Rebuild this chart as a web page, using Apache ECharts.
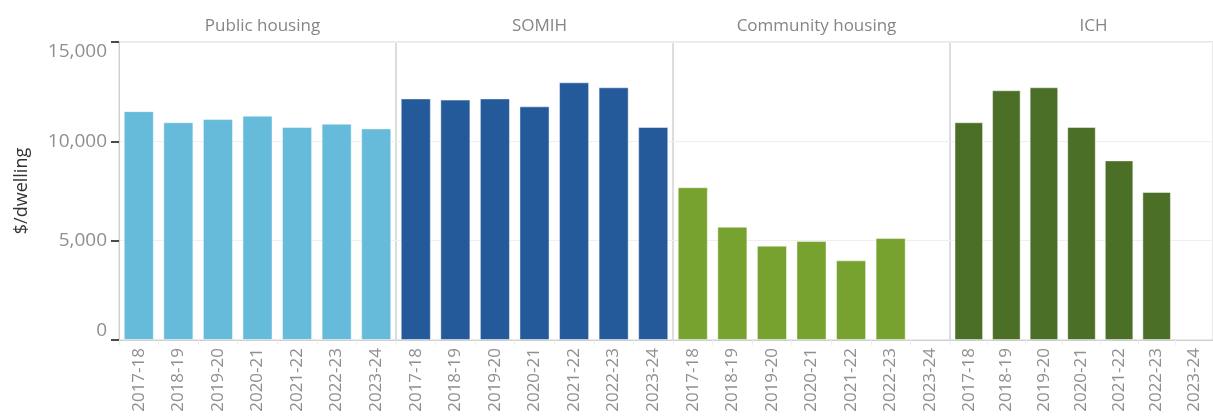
<!DOCTYPE html>
<html>
<head>
<meta charset="utf-8">
<script src="https://cdn.jsdelivr.net/npm/echarts@6/dist/echarts.min.js"></script>
<style>
  html, body { margin: 0; padding: 0; background: #fff; }
  #chart { width: 1213px; height: 417px; }
</style>
</head>
<body>
<div id="chart"></div>
<script>
// data ($ per dwelling)
const categories = ["2017-18", "2018-19", "2019-20", "2020-21", "2021-22", "2022-23", "2023-24"];
const panelTitles = ["Public housing", "SOMIH", "Community housing", "ICH"];
const publicHousing = [11520, 10960, 11120, 11290, 10720, 10890, 10650];
const somih = [12160, 12100, 12160, 11760, 12970, 12720, 10720];
const communityHousing = [7690, 5700, 4750, 4980, 4010, 5130, null];
const ich = [10960, 12570, 12720, 10720, 9040, 7450, null];
const colors = ["#66bbda", "#255a9a", "#78a22f", "#4c6f28"];

const panelData = [publicHousing, somih, communityHousing, ich];
const font = "'Open Sans', 'Noto Sans', sans-serif";
const gridLeft = 119, gridWidth = 277, gridTop = 42, gridHeight = 298;

const chart = echarts.init(document.getElementById("chart"));

const option = {
  animation: false,
  textStyle: { fontFamily: font },
  title: panelTitles.map((t, i) => ({
    text: t,
    left: gridLeft + gridWidth * i + gridWidth / 2,
    top: 13,
    textAlign: "center",
    textStyle: { fontFamily: font, fontSize: 17, fontWeight: "normal", color: "#858585" }
  })),
  grid: panelData.map((d, i) => ({
    left: gridLeft + gridWidth * i,
    top: gridTop,
    width: gridWidth,
    height: gridHeight,
    show: true,
    borderColor: "#d2d2d2",
    borderWidth: 1
  })),
  xAxis: panelData.map((d, i) => ({
    type: "category",
    gridIndex: i,
    data: categories,
    axisLine: { show: true, lineStyle: { color: "#cfcfcf" } },
    axisTick: { show: true, length: 5, lineStyle: { color: "#ececec" } },
    axisLabel: {
      rotate: 90,
      margin: 8,
      fontSize: 17,
      color: "#8f8f8f",
      fontFamily: font,
      interval: 0
    }
  })),
  yAxis: panelData.map((d, i) => ({
    type: "value",
    gridIndex: i,
    min: 0,
    max: 15000,
    interval: 5000,
    name: i === 0 ? "$/dwelling" : "",
    nameLocation: "middle",
    nameGap: 88,
    nameRotate: 90,
    nameTextStyle: { fontFamily: font, fontSize: 18, fontWeight: 500, color: "#333" },
    axisLine: { show: i === 0, lineStyle: { color: "#cfcfcf" } },
    axisTick: { show: i === 0, length: 8, lineStyle: { color: "#111", width: 1.5 } },
    axisLabel: {
      show: i === 0,
      margin: 12,
      fontSize: 19,
      color: "#8f8f8f",
      fontFamily: font,
      verticalAlignMaxLabel: "top",
      verticalAlignMinLabel: "bottom",
      formatter: v => v.toLocaleString("en-US")
    },
    splitLine: { show: true, lineStyle: { color: "#efefef" } }
  })),
  series: panelData.map((d, i) => ({
    type: "bar",
    name: panelTitles[i],
    xAxisIndex: i,
    yAxisIndex: i,
    data: d,
    barCategoryGap: "24%",
    itemStyle: {
      color: colors[i],
      borderColor: "rgba(255,255,255,0.45)",
      borderWidth: 1
    }
  }))
};

chart.setOption(option);
</script>
</body>
</html>
